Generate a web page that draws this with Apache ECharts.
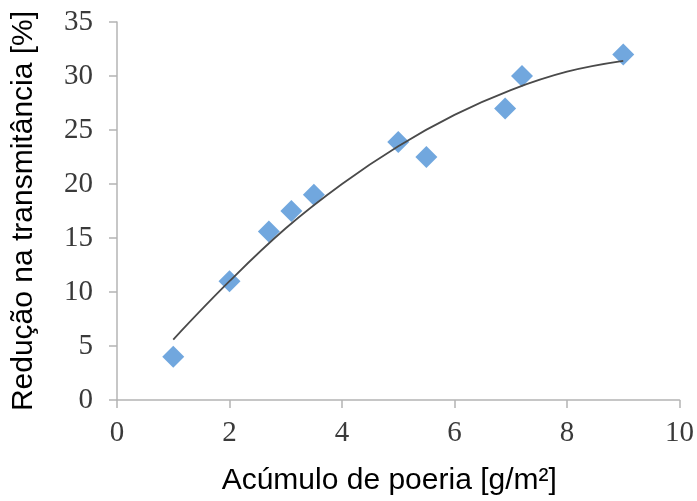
<!DOCTYPE html>
<html>
<head>
<meta charset="utf-8">
<script src="https://cdn.jsdelivr.net/npm/echarts@6/dist/echarts.min.js"></script>
<style>
  html, body { margin: 0; padding: 0; background: #fff; }
  #chart { width: 697px; height: 501px; }
</style>
</head>
<body>
<div id="chart"></div>
<script>
// Measured dust accumulation (g/m²) and transmittance reduction (%)
const dustAccum = [1.0, 2.0, 2.7, 3.1, 3.5, 5.0, 5.5, 6.9, 7.2, 9.0];
const transReduction = [4.0, 11.0, 15.6, 17.5, 19.0, 23.9, 22.5, 27.0, 30.0, 32.0];

// Second-order trend line, sampled along the fitted curve
const trendX = [1, 2, 3, 4, 5, 6, 7, 8, 9];
const trendY = [5.6, 11.0, 15.9, 20.0, 23.5, 26.4, 28.7, 30.4, 31.4];

const xTicks = [0, 2, 4, 6, 8, 10];
const yTicks = [0, 5, 10, 15, 20, 25, 30, 35];

const chart = echarts.init(document.getElementById('chart'));

const axisLineStyle = { color: '#b4b4b4', width: 1.5 };
const tickLabelStyle = {
  fontFamily: 'Liberation Serif, Times New Roman, serif',
  fontSize: 29,
  color: '#3a3a3a'
};
const titleStyle = {
  fontFamily: 'Liberation Sans, Arial, sans-serif',
  fontSize: 30,
  color: '#000'
};

chart.setOption({
  animation: false,
  backgroundColor: '#ffffff',
  grid: { left: 117, right: 15, top: 22, bottom: 99 },
  xAxis: {
    type: 'value',
    min: xTicks[0],
    max: xTicks[xTicks.length - 1],
    interval: 2,
    name: 'Acúmulo de poeria [g/m²]',
    nameLocation: 'middle',
    nameGap: 66,
    nameTextStyle: Object.assign({ padding: [0, 18, 0, 0] }, titleStyle),
    axisLine: { show: true, lineStyle: axisLineStyle },
    axisTick: { show: true, length: 8, lineStyle: axisLineStyle },
    axisLabel: Object.assign({ margin: 19 }, tickLabelStyle),
    splitLine: { show: false }
  },
  yAxis: {
    type: 'value',
    min: yTicks[0],
    max: yTicks[yTicks.length - 1],
    interval: 5,
    name: 'Redução na transmitância [%]',
    nameLocation: 'middle',
    nameGap: 78,
    nameTextStyle: titleStyle,
    axisLine: { show: true, lineStyle: axisLineStyle },
    axisTick: { show: true, length: 8, lineStyle: axisLineStyle },
    axisLabel: Object.assign({ margin: 24 }, tickLabelStyle),
    splitLine: { show: false }
  },
  series: [
    {
      name: 'Tendência',
      type: 'line',
      data: trendX.map((x, i) => [x, trendY[i]]),
      smooth: 0.4,
      showSymbol: false,
      lineStyle: { color: '#4a4a4a', width: 1.8 },
      z: 3
    },
    {
      name: 'Medições',
      type: 'scatter',
      data: dustAccum.map((x, i) => [x, transReduction[i]]),
      symbol: 'diamond',
      symbolSize: [22, 22],
      itemStyle: { color: '#4e91d6' },
      z: 2
    }
  ]
});
</script>
</body>
</html>
